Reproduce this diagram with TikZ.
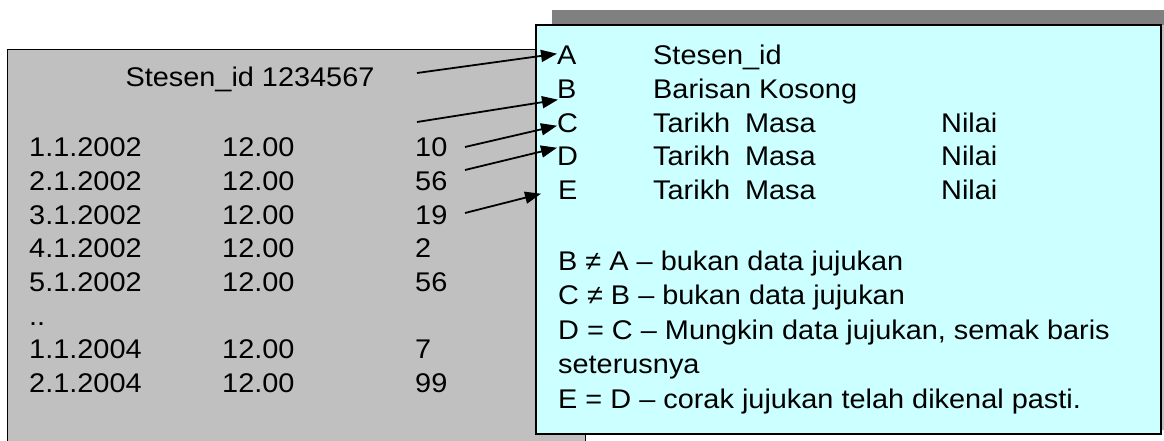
\documentclass[tikz,border=0pt]{standalone}
\usepackage{fontspec}
\setmainfont{Liberation Sans}[FakeStretch=1.07]
\usetikzlibrary{arrows.meta}
\definecolor{boxgray}{HTML}{C0C0C0}
\definecolor{shadowdark}{HTML}{808080}
\definecolor{boxcyan}{HTML}{CCFFFF}
\tikzset{
  txt/.style={inner sep=0pt, anchor=base west, font=\fontsize{27}{32}\selectfont},
  ptr/.style={line width=1.8pt, -{Triangle[length=16pt,width=12pt]}},
}
\begin{document}
\begin{tikzpicture}[x=1pt,y=-1pt]
\useasboundingbox (0,0) rectangle (1164,441);
% left grey panel
\draw[line width=1pt, fill=boxgray] (7,50) rectangle (585,470);
% shadow of right panel
\fill[boxgray] (552,10) rectangle (1180,430);
\fill[shadowdark] (552,10) rectangle (1180,25);
% right cyan panel
\draw[line width=1.2pt, fill=boxcyan] (536,25) rectangle (1161,434);

% left panel texts
\node[txt, anchor=base] (sid) at (250,87) {Stesen\_id 1234567};
\foreach \d/\v/\r in {1.1.2002/10/0, 2.1.2002/56/1, 3.1.2002/19/2, 4.1.2002/2/3, 5.1.2002/56/4, 1.1.2004/7/6, 2.1.2004/99/7}{
  \node[txt] (d\r) at (29,{157+33.6*\r}) {\d};
  \node[txt] (t\r) at (222,{157+33.6*\r}) {12.00};
  \node[txt] (v\r) at (415,{157+33.6*\r}) {\v};
}
\node[txt] (dots) at (29,{157+33.6*5}) {..};

% right panel texts
\node[txt] (A) at (557,65) {A};
\node[txt] (B) at (557,98.5) {B};
\node[txt] (C) at (557,132) {C};
\node[txt] (D) at (557,165.5) {D};
\node[txt] (E) at (558,199) {E};
\node[txt] (An) at (653,65) {Stesen\_id};
\node[txt] (Bn) at (653,98.5) {Barisan Kosong};
\foreach \n/\y in {C/132, D/165.5, E/199}{
  \node[txt] (\n t) at (653,\y) {Tarikh\hspace{0.55em}Masa};
  \node[txt] (\n v) at (941,\y) {Nilai};
}
\node[txt] (r1) at (558,270) {B ≠ A – bukan data jujukan};
\node[txt] (r2) at (558,304.5) {C ≠ B – bukan data jujukan};
\node[txt] (r3) at (558,339) {D = C – Mungkin data jujukan, semak baris};
\node[txt] (r4) at (558,373.5) {seterusnya};
\node[txt] (r5) at (558,408) {E = D – corak jujukan telah dikenal pasti.};

% arrow starts
\coordinate (sA) at (417,73);
\coordinate (sB) at (417,122);
\coordinate (sC) at (465,147);
\coordinate (sD) at (465,170);
\coordinate (sE) at (465,213);
\draw[ptr] (sA) -- ([shift={(0,-2)}]A.west);
\draw[ptr] (sB) -- ([shift={(1,1)}]B.south west);
\draw[ptr] (sC) -- ([shift={(0,3)}]C.west);
\draw[ptr] (sD) -- ([shift={(0,1)}]D.north west);
\draw[ptr] (sE) -- ([shift={(-17,4)}]E.west);
\end{tikzpicture}
\end{document}
